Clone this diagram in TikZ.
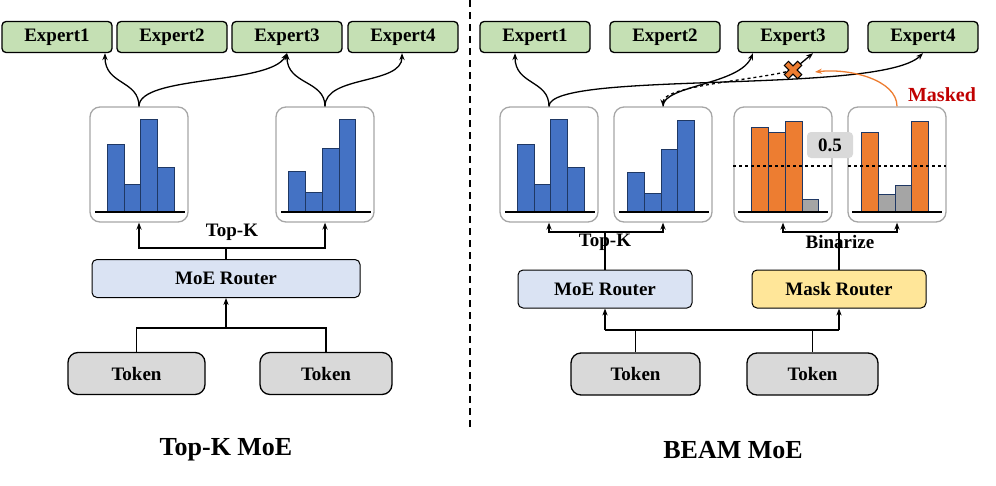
\documentclass[tikz,border=0pt]{standalone}
\usepackage{fontspec}
\setmainfont{Liberation Serif}
\usetikzlibrary{arrows.meta, positioning, calc}
\definecolor{expgreen}{HTML}{C5E0B4}
\definecolor{barblue}{HTML}{4472C4}
\definecolor{barline}{HTML}{1F3864}
\definecolor{barorange}{HTML}{ED7D31}
\definecolor{bargray}{HTML}{A5A5A5}
\definecolor{routerblue}{HTML}{DAE3F3}
\definecolor{maskyellow}{HTML}{FFE699}
\definecolor{tokengray}{HTML}{D9D9D9}
\definecolor{maskred}{HTML}{C00000}
\tikzset{
    expert/.style={draw, line width=1.3pt, rounded corners=4pt, fill=expgreen, minimum width=110pt, minimum height=31pt, font=\fontsize{19}{20}\selectfont\bfseries},
    chart/.style={draw=gray!70, line width=1.3pt, rounded corners=10pt, minimum width=98pt, minimum height=115pt},
    router/.style={draw, line width=1pt, rounded corners=5pt, minimum height=38pt, font=\fontsize{19}{20}\selectfont\bfseries},
    token/.style={draw, line width=1.3pt, rounded corners=10pt, fill=tokengray, minimum height=42pt, font=\fontsize{19}{20}\selectfont\bfseries},
    bb/.style={draw=barline, line width=1pt, fill=barblue},
    bo/.style={draw=barline, line width=1pt, fill=barorange},
    bg/.style={draw=barline, line width=1pt, fill=bargray},
    arr/.style={-{Stealth[length=7pt]}, line width=1.3pt},
    lbl/.style={font=\fontsize{19}{20}\selectfont\bfseries}
}
\begin{document}
\begin{tikzpicture}[x=1pt, y=-1pt]
    \useasboundingbox (0,0) rectangle (996,485);

    % ============== Top-K MoE ==============
    \node[expert] (e1) at (57,37) {Expert1};
    \node[expert] (e2) at (172,37) {Expert2};
    \node[expert] (e3) at (287,37) {Expert3};
    \node[expert] (e4) at (403,37) {Expert4};

    \node[chart] (c1) at (139,164.5) {};
    \node[chart] (c2) at (325,164.5) {};
    % bars of first chart
    \draw[bb] (107,212) rectangle (124,144);
    \draw[bb] (124,212) rectangle (140,184);
    \draw[bb] (140,212) rectangle (157,119);
    \draw[bb] (157,212) rectangle (174,167);
    \draw[line width=1.3pt] (95,212) -- (185,212);
    % bars of second chart
    \draw[bb] (288,212) rectangle (305,171);
    \draw[bb] (305,212) rectangle (322,192);
    \draw[bb] (322,212) rectangle (339,148);
    \draw[bb] (339,212) rectangle (355,119);
    \draw[line width=1.3pt] (281,212) -- (371,212);

    % routing curves
    \draw[arr] (c1.north) .. controls (139,80) and (105,85) .. (e1.south -| 105,0);
    \draw[arr] (c1.north) .. controls (139,75) and (270,85) .. (e3.south);
    \draw[arr] (c2.north) .. controls (325,80) and (287,85) .. (e3.south);
    \draw[arr] (c2.north) .. controls (325,75) and (402,85) .. (e4.south -| 402,0);

    \node[router, fill=routerblue, minimum width=268pt] (r) at (226,278.5) {MoE Router};
    \node[lbl] (tk) at (232,232) {Top-K};
    \coordinate (rj) at (226,248);
    \draw[line width=1.3pt] (r.north) -- (rj);
    \draw[arr] (rj) -| (c1.south);
    \draw[arr] (rj) -| (c2.south);

    \node[token, minimum width=137pt] (t1) at (136.5,373.5) {Token};
    \node[token, minimum width=132pt] (t2) at (326,373.5) {Token};
    \coordinate (tj) at (226,328);
    \draw[line width=1.3pt] (t1.north) |- (tj) -| (t2.north);
    \draw[arr] (tj) -- (r.south);

    \node[font=\fontsize{26}{28}\selectfont\bfseries] (ta) at (226,450) {Top-K MoE};

    % Dashed divider
    \coordinate (da) at (470,0);
    \coordinate (db) at (470,430);
    \draw[line width=1.3pt, dash pattern=on 7pt off 5pt] (da) -- (db);

    % ============== BEAM MoE ==============
    \node[expert] (f1) at (535,37) {Expert1};
    \node[expert] (f2) at (665,37) {Expert2};
    \node[expert] (f3) at (793,37) {Expert3};
    \node[expert] (f4) at (923,37) {Expert4};

    \node[chart] (d1) at (549,164.5) {};
    \node[chart] (d2) at (663,164.5) {};
    \node[chart] (d3) at (783,164.5) {};
    \node[chart] (d4) at (897,164.5) {};
    % first chart
    \draw[bb] (517,212) rectangle (534,144);
    \draw[bb] (534,212) rectangle (550,184);
    \draw[bb] (550,212) rectangle (567,119);
    \draw[bb] (567,212) rectangle (584,167);
    \draw[line width=1.3pt] (505,212) -- (595,212);
    % second chart
    \draw[bb] (627,212) rectangle (644,172);
    \draw[bb] (644,212) rectangle (661,193);
    \draw[bb] (661,212) rectangle (677,149);
    \draw[bb] (677,212) rectangle (694,120);
    \draw[line width=1.3pt] (619,212) -- (709,212);
    % third chart
    \draw[bo] (751,212) rectangle (768,127);
    \draw[bo] (768,212) rectangle (785,132);
    \draw[bo] (785,212) rectangle (802,121);
    \draw[bg] (802,212) rectangle (818,199);
    \draw[line width=1.3pt] (738,212) -- (828,212);
    \draw[dashed, line width=1.3pt] (733,166) -- (832,166);
    \node[fill=tokengray, rounded corners=4pt, minimum width=46pt, minimum height=26pt, font=\fontsize{19}{20}\selectfont\bfseries] (th) at (830,145) {0.5};
    % fourth chart
    \draw[bo] (861,212) rectangle (878,132);
    \draw[bg] (878,212) rectangle (895,194);
    \draw[bg] (895,212) rectangle (911,185);
    \draw[bo] (911,212) rectangle (928,121);
    \draw[line width=1.3pt] (852,212) -- (942,212);
    \draw[dashed, line width=1.3pt] (848,166) -- (946,166);

    % routing curves
    \draw[arr] (d1.north) .. controls (549,80) and (515,85) .. (f1.south -| 515,0);
    \draw[arr] (d1.north) .. controls (549,70) and (880,95) .. (f4.south);
    \draw[arr] (d2.north) .. controls (663,85) and (740,85) .. (f3.south -| 753,0);
    \coordinate (xm) at (793,70);
    \draw[dashed, line width=1.3pt, {Stealth[length=7pt]}-] (d2.north) .. controls (663,85) and (760,80) .. (xm);
    \draw[arr] (xm) -- (f3.south -| 813,0);
    % masked cross
    \draw[line width=7pt] ($(xm)+(-7,-7)$) -- ($(xm)+(7,7)$) ($(xm)+(-7,7)$) -- ($(xm)+(7,-7)$);
    \draw[line width=4.5pt, barorange] ($(xm)+(-6.2,-6.2)$) -- ($(xm)+(6.2,6.2)$) ($(xm)+(-6.2,6.2)$) -- ($(xm)+(6.2,-6.2)$);
    \coordinate (xr) at (815,72);
    \draw[-{Stealth[length=7pt]}, line width=1.3pt, barorange] (d4.north) .. controls (897,80) and (850,68) .. (xr);
    \node[font=\fontsize{20}{20}\selectfont\bfseries, text=maskred] (mk) at (942,95) {Masked};

    \node[router, fill=routerblue, minimum width=174pt] (mr) at (605,289) {MoE Router};
    \node[router, fill=maskyellow, minimum width=174pt] (kr) at (839,289) {Mask Router};
    \node[lbl] (tk2) at (605,242) {Top-K};
    \node[lbl] (bz) at (840,242) {Binarize};
    \coordinate (mj) at (605,232);
    \coordinate (kj) at (839,232);
    \draw[line width=1.3pt] (mr.north) -- (mj);
    \draw[arr] (mj) -| (d1.south);
    \draw[arr] (mj) -| (d2.south);
    \draw[line width=1.3pt] (kr.north) -- (kj);
    \draw[arr] (kj) -| (d3.south);
    \draw[arr] (kj) -| (d4.south);

    \node[token, minimum width=129pt] (u1) at (635.5,374) {Token};
    \node[token, minimum width=131pt] (u2) at (812.5,374) {Token};
    \coordinate (ua) at (605,330);
    \coordinate (ub) at (839,330);
    \draw[line width=1.3pt] (u1.north) |- (ua) -- (ub);
    \draw[line width=1.3pt] (u2.north) |- (ub);
    \draw[arr] (ua) -- (mr.south);
    \draw[arr] (ub) -- (kr.south);

    \node[font=\fontsize{26}{28}\selectfont\bfseries] (tb) at (733,450) {BEAM MoE};
\end{tikzpicture}
\end{document}
